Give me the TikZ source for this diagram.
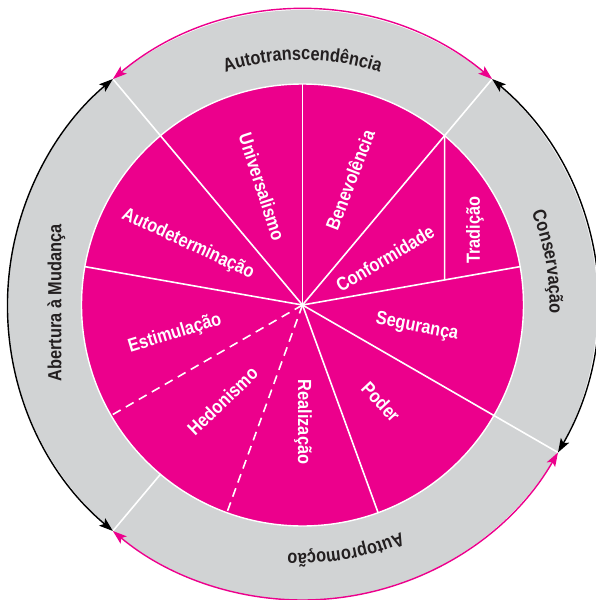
\documentclass[tikz,border=0pt]{standalone}
\usepackage{fontspec}
\setmainfont{Liberation Sans}[FakeStretch=0.86]
\usetikzlibrary{arrows.meta,decorations.text}
\definecolor{wheelpink}{HTML}{EC008C}
\definecolor{ringgray}{HTML}{D1D3D4}
\definecolor{inkdark}{HTML}{231F20}
\newcommand{\ringfont}{\fontsize{19}{19}\selectfont\bfseries}

\begin{document}
\begin{tikzpicture}[x=1pt,y=1pt,
  sector/.style={white, line width=1.6pt},
  dashedsector/.style={white, line width=1.6pt, dash pattern=on 9pt off 6pt},
  valuelabel/.style={text=white, font=\fontsize{19}{19}\selectfont\bfseries, inner sep=0pt},
  ringlabel/.style={text=inkdark, font=\ringfont, inner sep=0pt},
  tip/.tip={Stealth[length=14pt,width=9.5pt,inset=3pt]},
  ringarrow/.style={line width=1.4pt, tip-tip},
  arctext/.style={decorate, decoration={text along path, text={|\ringfont|#1},
    text align=center, text color=inkdark}},
]
\useasboundingbox (-302.5,-295) rectangle (292.5,305);
\coordinate (O) at (0,0);

% outer grey ring and inner pink disc
\fill[ringgray] (O) circle[radius=295];
\fill[wheelpink] (O) circle[radius=221];
\draw[white, line width=1.4pt] (O) circle[radius=221];

% points on the rim of the disc and of the ring
\foreach \a in {90,50,10,-30,-70,-110,-150,170,130}
  \coordinate (in\a) at (\a:221);
\foreach \a in {130,50,-30,-130}
  \coordinate (out\a) at (\a:295);
\coordinate (tradcorner) at (142.06,25.05);

% boundaries between the four higher-order groups
\draw[sector] (in130) -- (out130);
\draw[sector] (in50) -- (out50);
\draw[sector] (in-30) -- (out-30);
\draw[sector] (-130:221) -- (out-130);

% boundaries between the values
\foreach \a in {90,50,10,-30,-70,170,130}
  \draw[sector] (O) -- (in\a);
\draw[dashedsector] (O) -- (in-110);
\draw[dashedsector] (O) -- (in-150);
\draw[sector] (in50) -- (tradcorner);

% arrows along the outer edge
\draw[ringarrow, wheelpink] (out130) arc[start angle=130, end angle=50, radius=295];
\draw[ringarrow, black] (out50) arc[start angle=50, end angle=-30, radius=295];
\draw[ringarrow, wheelpink] (out-30) arc[start angle=-30, end angle=-130, radius=295];
\draw[ringarrow, black] (out-130) arc[start angle=230, end angle=130, radius=295];

% names of the four groups
\path[arctext=Autotranscendência] (130:245) arc[start angle=130, end angle=50, radius=245];
\path[arctext=Conservação] (50:247) arc[start angle=50, end angle=-30, radius=247];
\path[arctext=Autopromoção] (-30:248) arc[start angle=-30, end angle=-130, radius=248];
\node[ringlabel, rotate=90] (abertura) at (-246,2) {Abertura à Mudança};

% names of the values
\node[valuelabel, rotate=-72] (univ) at (-40.5,118) {Universalismo};
\node[valuelabel, rotate=69] (bene) at (47.5,125) {Benevolência};
\node[valuelabel, rotate=-25] (autod) at (-114.5,61) {Autodeterminação};
\node[valuelabel, rotate=31] (conf) at (82.5,46.5) {Conformidade};
\node[valuelabel, rotate=90] (trad) at (172.5,75) {Tradição};
\node[valuelabel, rotate=-11] (seg) at (114.5,-22) {Segurança};
\node[valuelabel, rotate=-47] (poder) at (78.5,-97) {Poder};
\node[valuelabel, rotate=-90] (real) at (0.5,-117) {Realização};
\node[valuelabel, rotate=44] (hedo) at (-80,-96) {Hedonismo};
\node[valuelabel, rotate=17] (estim) at (-127.5,-28.5) {Estimulação};
\end{tikzpicture}
\end{document}
